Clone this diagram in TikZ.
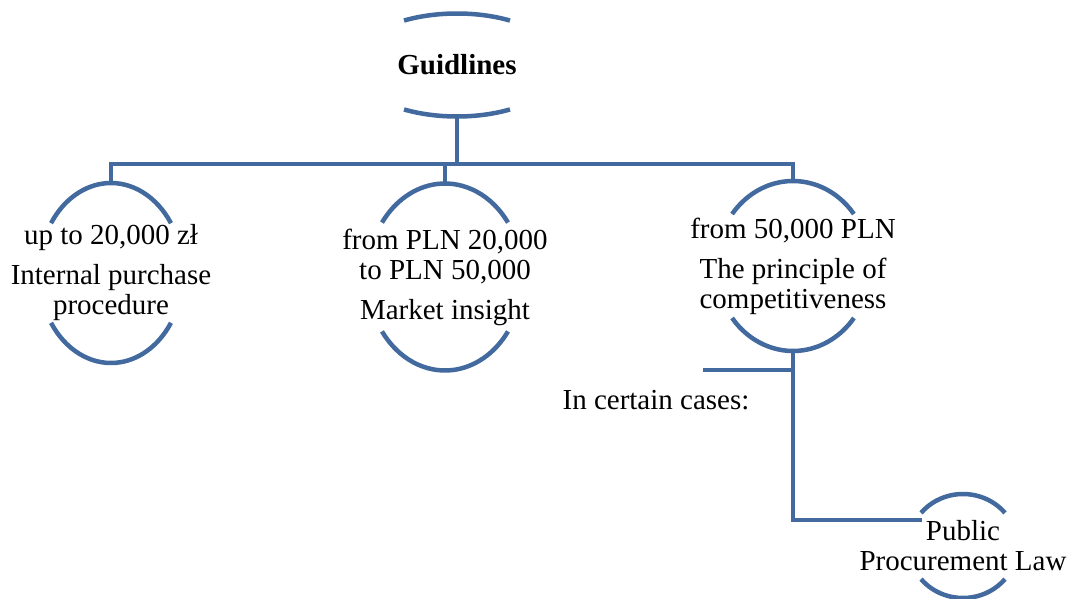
\documentclass[tikz,border=0pt]{standalone}
\usepackage{fontspec}
\setmainfont{Liberation Serif}
\usetikzlibrary{calc}
\definecolor{capblue}{HTML}{426A9E}
% top and bottom arcs round a text node: node, x radius, y radius, angle
\newcommand\ovalcaps[4]{%
  \draw[rim] ($(#1.center)+(#4:#2 and #3)$) arc[start angle=#4, end angle=180-#4, x radius=#2, y radius=#3];
  \draw[rim] ($(#1.center)+({180+#4}:#2 and #3)$) arc[start angle=180+#4, end angle=360-#4, x radius=#2, y radius=#3];
  \coordinate (#1-t) at ($(#1.center)+(0,#3)$);
  \coordinate (#1-b) at ($(#1.center)-(0,#3)$);}

\begin{document}
\begin{tikzpicture}[x=1pt, y=1pt,
    rim/.style={draw=capblue, line width=4.5pt},
    txt/.style={font=\fontsize{29}{30}\selectfont, align=center, inner sep=0pt}
]
    \useasboundingbox (0,0) rectangle (1075,598);

    \node[txt, font=\fontsize{29}{30}\selectfont\bfseries] (guide) at (457,533) {Guidlines};
    \node[txt] (low) at (111,325) {up to 20,000 zł\\[10pt]Internal purchase\\procedure};
    \node[txt] (mid) at (445,321) {from PLN 20,000\\to PLN 50,000\\[10pt]Market insight};
    \node[txt] (high) at (793,332) {from 50,000 PLN\\[10pt]The principle of\\competitiveness};
    \node[txt] (law) at (963,52) {Public\\Procurement Law};
    \node[txt] (cases) at (656,198) {In certain cases:};

    \ovalcaps{guide}{105}{51.5}{59.7}
    \ovalcaps{low}{72}{90}{33.6}
    \ovalcaps{mid}{77.5}{93.5}{35.6}
    \ovalcaps{high}{77}{85}{37.7}
    \ovalcaps{law}{54.4}{52}{39.5}

    \coordinate (rail) at (457,434);
    \coordinate (split) at (793,228);
    \coordinate (cases-end) at (703,228);
    \coordinate (law-in) at (922,78);

    \draw[rim] (guide-b) -- (rail) -| (low-t);
    \draw[rim] (rail) -| (mid-t);
    \draw[rim] (rail) -| (high-t);
    \draw[rim] (high-b) |- (law-in);
    \draw[rim] (split) -- (cases-end);
\end{tikzpicture}
\end{document}
